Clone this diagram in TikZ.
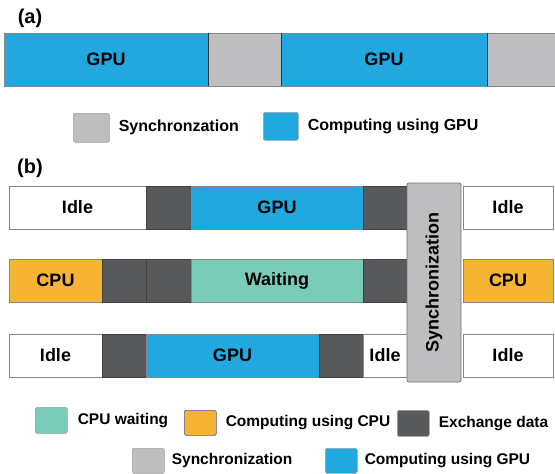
\documentclass[tikz,border=0pt]{standalone}
\usepackage{fontspec}
\setmainfont{Liberation Sans}
\usetikzlibrary{positioning}
\definecolor{gpublue}{RGB}{33,168,222}
\definecolor{syncgray}{RGB}{190,190,192}
\definecolor{xchgdark}{RGB}{88,89,91}
\definecolor{waitteal}{RGB}{122,204,184}
\definecolor{cpuorange}{RGB}{245,180,52}
\definecolor{edgegray}{RGB}{135,135,137}

\begin{document}
\begin{tikzpicture}[
  x=1pt, y=-1pt,
  seg/.style={rectangle, draw=edgegray, line width=0.7pt, inner sep=0pt, outer sep=0pt,
    minimum height=43pt, font=\bfseries\fontsize{18}{20}\selectfont},
  idle/.style={seg, fill=white},
  gpu/.style={seg, fill=gpublue},
  cpu/.style={seg, fill=cpuorange},
  wait/.style={seg, fill=waitteal},
  xchg/.style={seg, fill=xchgdark, draw=black!75},
  sync/.style={seg, fill=syncgray},
  key/.style={rectangle, draw=gray!75, line width=0.6pt, rounded corners=1.5pt, inner sep=0pt,
    minimum width=32pt, minimum height=25pt},
  keytext/.style={inner sep=0pt, font=\bfseries\fontsize{16}{18}\selectfont},
  keytextb/.style={keytext, font=\bfseries\fontsize{15.5}{18}\selectfont},
  tag/.style={inner sep=0pt, font=\bfseries\fontsize{20}{22}\selectfont}
]
\useasboundingbox (0,0) rectangle (555,474);

% (a) one GPU
\node[tag] (taga) at (30,18) {(a)};
\node[gpu, minimum height=53pt, minimum width=204pt, anchor=north west] (ga1) at (4,33) {GPU};
\node[sync, minimum height=53pt, minimum width=73pt, right=0pt of ga1] (sa1) {};
\node[gpu, minimum height=53pt, minimum width=206pt, right=0pt of sa1] (ga2) {GPU};
\node[sync, minimum height=53pt, minimum width=68pt, right=0pt of ga2] (sa2) {};
\foreach \n in {ga1,sa1,ga2}
  \draw[black!80, line width=0.9pt] (\n.north east) -- (\n.south east);

\node[key, fill=syncgray, minimum width=36pt, minimum height=29pt, anchor=north west] (ksynca) at (73,113) {};
\node[keytext, right=9pt of ksynca] (tsynca) {Synchronzation};
\node[key, fill=gpublue, minimum width=35pt, minimum height=28pt, anchor=north west] (kgpua) at (263,112) {};
\node[keytext, right=9pt of kgpua] (tgpua) {Computing using GPU};

% (b) CPU + GPUs
\node[tag] (tagb) at (30,168) {(b)};

% row 1
\node[idle, minimum width=137pt, anchor=north west] (i11) at (9,186) {Idle};
\node[xchg, minimum width=45pt, right=0pt of i11] (x11) {};
\node[gpu, minimum width=172pt, right=0pt of x11] (g11) {GPU};
\node[xchg, minimum width=44pt, right=0pt of g11] (x12) {};

% row 2
\node[cpu, minimum width=93pt, anchor=north west] (c21) at (9,259) {CPU};
\node[xchg, minimum width=44pt, right=0pt of c21] (x21) {};
\node[xchg, minimum width=45pt, right=0pt of x21] (x22) {};
\node[wait, minimum width=172pt, right=0pt of x22] (w21) {Waiting};
\node[xchg, minimum width=44pt, right=0pt of w21] (x23) {};

% row 3
\node[idle, minimum width=93pt, anchor=north west] (i31) at (9,334) {Idle};
\node[xchg, minimum width=44pt, right=0pt of i31] (x31) {};
\node[gpu, minimum width=173pt, right=0pt of x31] (g31) {GPU};
\node[xchg, minimum width=44pt, right=0pt of g31] (x32) {};
\node[idle, minimum width=44pt, right=0pt of x32] (i32) {Idle};

% barrier
\node[sync, draw=black!55, rounded corners=2pt, rotate=90, minimum width=199pt,
  minimum height=54pt] (sb) at (434,282.5) {Synchronization};

\node[idle, minimum width=90pt, right=56pt of x12] (i13) {Idle};
\node[cpu, minimum width=90pt, right=56pt of x23] (c23) {CPU};
\node[idle, minimum width=90pt, right=56pt of i32] (i33) {Idle};

% legend
\node[key, fill=waitteal, minimum height=26pt, anchor=north west] (kwait) at (35,407) {};
\node[keytextb, right=10pt of kwait] (twait) {CPU waiting};
\node[key, fill=cpuorange, draw=blue!35!gray, anchor=north west] (kcpu) at (184,410) {};
\node[keytextb, right=9pt of kcpu] (tcpu) {Computing using CPU};
\node[key, fill=xchgdark, minimum height=26pt, anchor=north west] (kxchg) at (397,410) {};
\node[keytextb, right=9pt of kxchg] (txchg) {Exchange data};
\node[key, fill=syncgray, anchor=north west] (ksyncb) at (132,448) {};
\node[keytextb, right=7pt of ksyncb] (tsyncb) {Synchronization};
\node[key, fill=gpublue, anchor=north west] (kgpub) at (325,448) {};
\node[keytextb, right=7pt of kgpub] (tgpub) {Computing using GPU};
\end{tikzpicture}
\end{document}
